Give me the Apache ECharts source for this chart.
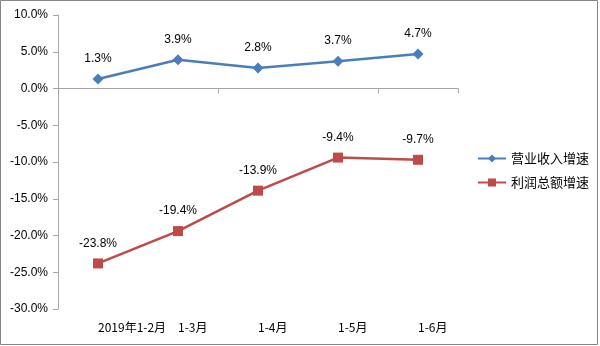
<!DOCTYPE html>
<html>
<head>
<meta charset="utf-8">
<script src="https://cdn.jsdelivr.net/npm/echarts@6/dist/echarts.min.js"></script>
<style>
  html, body { margin: 0; padding: 0; background: #fff; }
  #chart { width: 600px; height: 346px; }
</style>
</head>
<body>
<div id="chart"></div>
<script>
// Period labels along the category axis
const periods = ['2019年1-2月', '1-3月', '1-4月', '1-5月', '1-6月'];
// Year-to-date growth rates, percent
const revenueGrowth = [1.3, 3.9, 2.8, 3.7, 4.7];
const profitGrowth = [-23.8, -19.4, -13.9, -9.4, -9.7];
const seriesNames = ['营业收入增速', '利润总额增速'];

const fontFamily = '"Liberation Sans", "Noto Sans CJK SC", sans-serif';
const axisGray = '#a6a6a6';

const chart = echarts.init(document.getElementById('chart'), null, { renderer: 'canvas' });

const pointLabel = {
  show: true,
  position: 'top',
  distance: 9,
  color: '#000',
  fontSize: 12,
  fontFamily: fontFamily,
  formatter: p => p.value.toFixed(1) + '%'
};

chart.setOption({
  animation: false,
  textStyle: { fontFamily: fontFamily },
  graphic: [{
    type: 'rect',
    shape: { x: 0.5, y: 0.5, width: 597, height: 344 },
    style: { fill: 'none', stroke: '#868686', lineWidth: 1 }
  }],
  grid: { left: 58, right: 142, top: 15, bottom: 37 },
  legend: {
    orient: 'vertical',
    left: 477,
    top: 152,
    padding: 0,
    itemWidth: 28,
    itemHeight: 10,
    itemGap: 11,
    textStyle: { color: '#000', fontSize: 13, fontFamily: '"Noto Sans CJK SC", sans-serif' },
    data: seriesNames
  },
  xAxis: [{
    type: 'category',
    data: periods,
    boundaryGap: true,
    axisLine: { onZero: true, lineStyle: { color: axisGray } },
    axisTick: { show: true, alignWithLabel: false, length: 5, lineStyle: { color: axisGray } },
    axisLabel: { show: false }
  }, {
    type: 'category',
    data: periods,
    position: 'bottom',
    boundaryGap: true,
    axisLine: { show: false },
    axisTick: { show: false },
    axisLabel: {
      show: true,
      interval: 0,
      margin: 12,
      align: 'left',
      color: '#000',
      fontSize: 12,
      fontFamily: '"Noto Sans CJK SC", sans-serif'
    }
  }],
  yAxis: {
    type: 'value',
    min: -30,
    max: 10,
    interval: 5,
    axisLine: { show: true, lineStyle: { color: axisGray } },
    axisTick: { show: true, inside: false, length: 5, lineStyle: { color: axisGray } },
    splitLine: { show: false },
    axisLabel: {
      margin: 10,
      color: '#000',
      fontSize: 12,
      formatter: v => v.toFixed(1) + '%'
    }
  },
  series: [{
    name: seriesNames[0],
    type: 'line',
    xAxisIndex: 0,
    data: revenueGrowth,
    symbol: 'diamond',
    symbolSize: 11,
    lineStyle: { color: '#4a7ebb', width: 2.5 },
    itemStyle: { color: '#4a7ebb' },
    label: pointLabel
  }, {
    name: seriesNames[1],
    type: 'line',
    xAxisIndex: 0,
    data: profitGrowth,
    symbol: 'rect',
    symbolSize: 10,
    lineStyle: { color: '#be4b48', width: 2.5 },
    itemStyle: { color: '#be4b48' },
    label: pointLabel
  }]
});
</script>
</body>
</html>
